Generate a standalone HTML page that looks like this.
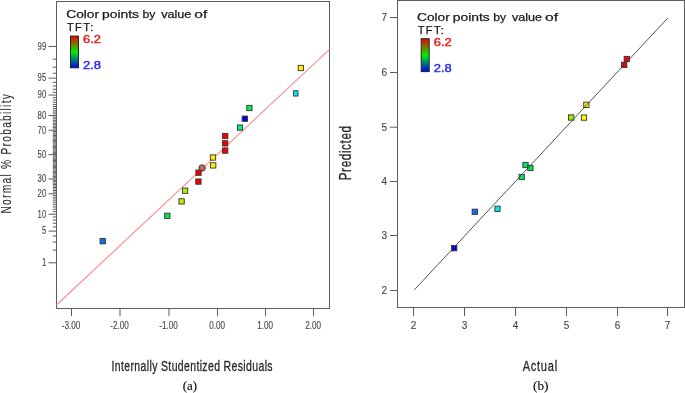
<!DOCTYPE html>
<html><head><meta charset="utf-8"><style>
html,body{margin:0;padding:0;background:#fff;}
svg{display:block;will-change:transform;}
.tl{font-family:"Liberation Sans",sans-serif;font-size:10px;fill:#454545;stroke:#454545;stroke-width:0.12px;}
.lg{font-family:"Liberation Sans",sans-serif;font-size:11px;fill:#1a1a1a;stroke:#1a1a1a;stroke-width:0.25px;}
.lgn{font-family:"Liberation Sans",sans-serif;font-size:10.4px;stroke-width:0.4px;}
.at{font-family:"Liberation Sans",sans-serif;font-size:15px;fill:#2a2a2a;stroke:#2a2a2a;stroke-width:0.1px;}
.at2{font-family:"Liberation Sans",sans-serif;font-size:13.8px;fill:#2a2a2a;stroke:#2a2a2a;stroke-width:0.3px;}
.cap{font-family:"Liberation Serif",serif;font-size:13px;fill:#000;stroke:#000;stroke-width:0.1px;}
</style></head><body>
<svg width="685" height="393" viewBox="0 0 685 393">
<defs><linearGradient id="cb" x1="0" y1="0" x2="0" y2="1">
<stop offset="0" stop-color="#f00000"/><stop offset="0.5" stop-color="#00f000"/><stop offset="1" stop-color="#0000f0"/>
</linearGradient></defs>
<rect width="685" height="393" fill="#fff"/>
<rect x="56.5" y="1.5" width="273" height="307" fill="none" stroke="#5c5c5c" stroke-width="1"/>
<path d="M48.5 262.8H56 M52.8 250.13H56 M52.8 242.09H56 M52.8 236.04H56 M48.5 231.12H56 M52.8 226.93H56 M52.8 223.26H56 M52.8 219.97H56 M52.8 216.98H56 M48.5 214.23H56 M52.8 211.67H56 M52.8 209.28H56 M52.8 207.02H56 M52.8 204.87H56 M52.8 202.83H56 M52.8 200.88H56 M52.8 199.01H56 M52.8 197.21H56 M52.8 195.46H56 M48.5 193.78H56 M52.8 192.14H56 M52.8 190.55H56 M52.8 189H56 M52.8 187.49H56 M52.8 186.01H56 M52.8 184.56H56 M52.8 183.14H56 M52.8 181.75H56 M52.8 180.38H56 M48.5 179.03H56 M52.8 177.7H56 M52.8 176.39H56 M52.8 175.1H56 M52.8 173.83H56 M52.8 172.56H56 M52.8 171.31H56 M52.8 170.08H56 M52.8 168.85H56 M52.8 167.64H56 M52.8 166.43H56 M52.8 165.23H56 M52.8 164.04H56 M52.8 162.85H56 M52.8 161.67H56 M52.8 160.49H56 M52.8 159.32H56 M52.8 158.15H56 M52.8 156.98H56 M52.8 155.82H56 M48.5 154.65H56 M52.8 153.48H56 M52.8 152.32H56 M52.8 151.15H56 M52.8 149.98H56 M52.8 148.81H56 M52.8 147.63H56 M52.8 146.45H56 M52.8 145.26H56 M52.8 144.07H56 M52.8 142.87H56 M52.8 141.66H56 M52.8 140.45H56 M52.8 139.22H56 M52.8 137.99H56 M52.8 136.74H56 M52.8 135.47H56 M52.8 134.2H56 M52.8 132.91H56 M52.8 131.6H56 M48.5 130.27H56 M52.8 128.92H56 M52.8 127.55H56 M52.8 126.16H56 M52.8 124.74H56 M52.8 123.29H56 M52.8 121.81H56 M52.8 120.3H56 M52.8 118.75H56 M52.8 117.16H56 M48.5 115.52H56 M52.8 113.84H56 M52.8 112.09H56 M52.8 110.29H56 M52.8 108.42H56 M52.8 106.47H56 M52.8 104.43H56 M52.8 102.28H56 M52.8 100.02H56 M52.8 97.63H56 M48.5 95.07H56 M52.8 92.32H56 M52.8 89.33H56 M52.8 86.04H56 M52.8 82.37H56 M48.5 78.18H56 M52.8 73.26H56 M52.8 67.21H56 M52.8 59.17H56 M48.5 46.5H56" stroke="#5c5c5c" stroke-width="1" fill="none"/>
<text x="41.9" y="266.1" class="tl" textLength="4.3" lengthAdjust="spacingAndGlyphs">1</text>
<text x="41.9" y="234.42" class="tl" textLength="4.3" lengthAdjust="spacingAndGlyphs">5</text>
<text x="37.6" y="217.53" class="tl" textLength="8.6" lengthAdjust="spacingAndGlyphs">10</text>
<text x="37.6" y="197.08" class="tl" textLength="8.6" lengthAdjust="spacingAndGlyphs">20</text>
<text x="37.6" y="182.33" class="tl" textLength="8.6" lengthAdjust="spacingAndGlyphs">30</text>
<text x="37.6" y="157.95" class="tl" textLength="8.6" lengthAdjust="spacingAndGlyphs">50</text>
<text x="37.6" y="133.57" class="tl" textLength="8.6" lengthAdjust="spacingAndGlyphs">70</text>
<text x="37.6" y="118.82" class="tl" textLength="8.6" lengthAdjust="spacingAndGlyphs">80</text>
<text x="37.6" y="98.37" class="tl" textLength="8.6" lengthAdjust="spacingAndGlyphs">90</text>
<text x="37.6" y="81.48" class="tl" textLength="8.6" lengthAdjust="spacingAndGlyphs">95</text>
<text x="37.6" y="49.8" class="tl" textLength="8.6" lengthAdjust="spacingAndGlyphs">99</text>
<path d="M71.5 308.5V316.2 M120 308.5V316.2 M169 308.5V316.2 M217.5 308.5V316.2 M265.5 308.5V316.2 M313.5 308.5V316.2" stroke="#5c5c5c" stroke-width="1" fill="none"/>
<text x="61.8" y="328.5" class="tl" textLength="18.6" lengthAdjust="spacingAndGlyphs">-3.00</text>
<text x="110.3" y="328.5" class="tl" textLength="18.6" lengthAdjust="spacingAndGlyphs">-2.00</text>
<text x="159.3" y="328.5" class="tl" textLength="18.6" lengthAdjust="spacingAndGlyphs">-1.00</text>
<text x="209.2" y="328.5" class="tl" textLength="15.8" lengthAdjust="spacingAndGlyphs">0.00</text>
<text x="257.2" y="328.5" class="tl" textLength="15.8" lengthAdjust="spacingAndGlyphs">1.00</text>
<text x="305.2" y="328.5" class="tl" textLength="15.8" lengthAdjust="spacingAndGlyphs">2.00</text>
<line x1="56.5" y1="305.0" x2="329.5" y2="49.4" stroke="#ff8a8a" stroke-width="1.1"/>
<circle cx="202.1" cy="168.0" r="3.2" fill="#c86464" stroke="#333" stroke-width="0.9"/>
<rect x="100.05" y="238.55" width="5.3" height="5.3" fill="#0a6ef5" stroke="#353535" stroke-width="0.9"/>
<rect x="164.65" y="213.15" width="5.3" height="5.3" fill="#00e655" stroke="#353535" stroke-width="0.9"/>
<rect x="178.95" y="198.75" width="5.3" height="5.3" fill="#b4ee00" stroke="#353535" stroke-width="0.9"/>
<rect x="182.45" y="188.05" width="5.3" height="5.3" fill="#b4ee00" stroke="#353535" stroke-width="0.9"/>
<rect x="195.75" y="178.95" width="5.3" height="5.3" fill="#f50000" stroke="#353535" stroke-width="0.9"/>
<rect x="195.85" y="170.05" width="5.3" height="5.3" fill="#f50000" stroke="#353535" stroke-width="0.9"/>
<rect x="210.55" y="162.75" width="5.3" height="5.3" fill="#fff000" stroke="#353535" stroke-width="0.9"/>
<rect x="210.35" y="154.85" width="5.3" height="5.3" fill="#fff000" stroke="#353535" stroke-width="0.9"/>
<rect x="222.55" y="147.95" width="5.3" height="5.3" fill="#f50000" stroke="#353535" stroke-width="0.9"/>
<rect x="222.55" y="140.65" width="5.3" height="5.3" fill="#f50000" stroke="#353535" stroke-width="0.9"/>
<rect x="222.55" y="133.35" width="5.3" height="5.3" fill="#f50000" stroke="#353535" stroke-width="0.9"/>
<rect x="237.35" y="124.95" width="5.3" height="5.3" fill="#00f07a" stroke="#353535" stroke-width="0.9"/>
<rect x="242.15" y="116.05" width="5.3" height="5.3" fill="#0000f0" stroke="#353535" stroke-width="0.9"/>
<rect x="246.75" y="105.35" width="5.3" height="5.3" fill="#00f046" stroke="#353535" stroke-width="0.9"/>
<rect x="298.15" y="65.35" width="5.3" height="5.3" fill="#fff000" stroke="#353535" stroke-width="0.9"/>
<rect x="293.6" y="90.75" width="4.4" height="5.3" fill="#00e8f0" stroke="#353535" stroke-width="0.9"/>
<text x="66.3" y="17.6" class="lg" textLength="32.73" lengthAdjust="spacingAndGlyphs">Color</text><text x="102.11" y="17.6" class="lg" textLength="36.9" lengthAdjust="spacingAndGlyphs">points</text><text x="142.51" y="17.6" class="lg" textLength="12.91" lengthAdjust="spacingAndGlyphs">by</text><text x="161.25" y="17.6" class="lg" textLength="30.11" lengthAdjust="spacingAndGlyphs">value</text><text x="194.35" y="17.6" class="lg" textLength="13.02" lengthAdjust="spacingAndGlyphs">of</text><text x="67" y="30.6" class="lg" textLength="26.2" lengthAdjust="spacing">TFT:</text><rect x="70.5" y="36.1" width="8" height="31.7" fill="url(#cb)" stroke="#222" stroke-width="1"/><text x="83" y="43.1" class="lgn" fill="#f01818" stroke="#f01818" textLength="18" lengthAdjust="spacingAndGlyphs">6.2</text><text x="83" y="69" class="lgn" fill="#2828ff" stroke="#2828ff" textLength="18" lengthAdjust="spacingAndGlyphs">2.8</text>
<text transform="translate(11.0,213.5) rotate(-90) scale(0.68,1)" class="at" textLength="175.5" lengthAdjust="spacing">Normal % Probability</text>
<text transform="translate(111.6,370.5) scale(0.76,1)" class="at2" textLength="211.8" lengthAdjust="spacing">Internally Studentized Residuals</text>
<text x="182.8" y="390" class="cap" textLength="14.3" lengthAdjust="spacingAndGlyphs">(a)</text>
<rect x="397.5" y="0.5" width="287" height="307" fill="none" stroke="#5c5c5c" stroke-width="1"/>
<path d="M390 17.5H397 M390 72.5H397 M390 127.2H397 M390 181.5H397 M390 235.5H397 M390 290.5H397" stroke="#5c5c5c" stroke-width="1" fill="none"/>
<text x="387" y="21.1" text-anchor="end" class="tl">7</text>
<text x="387" y="76.1" text-anchor="end" class="tl">6</text>
<text x="387" y="130.8" text-anchor="end" class="tl">5</text>
<text x="387" y="185.1" text-anchor="end" class="tl">4</text>
<text x="387" y="239.1" text-anchor="end" class="tl">3</text>
<text x="387" y="294.1" text-anchor="end" class="tl">2</text>
<path d="M413.5 307.5V316 M464.5 307.5V316 M515.5 307.5V316 M566.5 307.5V316 M617.5 307.5V316 M667.5 307.5V316" stroke="#5c5c5c" stroke-width="1" fill="none"/>
<text x="413.5" y="328.6" text-anchor="middle" class="tl">2</text>
<text x="464.5" y="328.6" text-anchor="middle" class="tl">3</text>
<text x="515.5" y="328.6" text-anchor="middle" class="tl">4</text>
<text x="566.5" y="328.6" text-anchor="middle" class="tl">5</text>
<text x="617.5" y="328.6" text-anchor="middle" class="tl">6</text>
<text x="667.5" y="328.6" text-anchor="middle" class="tl">7</text>
<rect x="472.15" y="209.15" width="5.3" height="5.3" fill="#0a6ef5" stroke="#353535" stroke-width="0.9"/>
<rect x="494.85" y="206.15" width="5.3" height="5.3" fill="#00e8f0" stroke="#353535" stroke-width="0.9"/>
<rect x="451.55" y="245.55" width="5.3" height="5.3" fill="#0000dc" stroke="#353535" stroke-width="0.9"/>
<rect x="522.85" y="162.35" width="5.3" height="5.3" fill="#00e664" stroke="#353535" stroke-width="0.9"/>
<rect x="519.05" y="174.35" width="5.3" height="5.3" fill="#00ea64" stroke="#353535" stroke-width="0.9"/>
<rect x="527.75" y="165.35" width="5.3" height="5.3" fill="#00e63c" stroke="#353535" stroke-width="0.9"/>
<rect x="568.55" y="114.85" width="5.3" height="5.3" fill="#96f000" stroke="#353535" stroke-width="0.9"/>
<rect x="581.35" y="114.95" width="5.3" height="5.3" fill="#fff500" stroke="#353535" stroke-width="0.9"/>
<rect x="583.75" y="102.15" width="5.3" height="5.3" fill="#fff000" stroke="#353535" stroke-width="0.9"/>
<rect x="624.15" y="56.35" width="5.3" height="5.3" fill="#f50000" stroke="#353535" stroke-width="0.9"/>
<rect x="621.55" y="62.25" width="5.3" height="5.3" fill="#f50000" stroke="#353535" stroke-width="0.9"/>
<line x1="414.2" y1="290.0" x2="667.7" y2="18.1" stroke="#404040" stroke-width="0.9"/>
<text x="417" y="20.8" class="lg" textLength="32.73" lengthAdjust="spacingAndGlyphs">Color</text><text x="452.81" y="20.8" class="lg" textLength="36.9" lengthAdjust="spacingAndGlyphs">points</text><text x="493.21" y="20.8" class="lg" textLength="12.91" lengthAdjust="spacingAndGlyphs">by</text><text x="511.95" y="20.8" class="lg" textLength="30.11" lengthAdjust="spacingAndGlyphs">value</text><text x="545.05" y="20.8" class="lg" textLength="13.02" lengthAdjust="spacingAndGlyphs">of</text><text x="417.7" y="33.8" class="lg" textLength="26.2" lengthAdjust="spacing">TFT:</text><rect x="421.2" y="38.7" width="8" height="32.9" fill="url(#cb)" stroke="#222" stroke-width="1"/><text x="433.7" y="46.3" class="lgn" fill="#f01818" stroke="#f01818" textLength="18" lengthAdjust="spacingAndGlyphs">6.2</text><text x="433.7" y="72.2" class="lgn" fill="#2828ff" stroke="#2828ff" textLength="18" lengthAdjust="spacingAndGlyphs">2.8</text>
<text transform="translate(350.7,180.3) rotate(-90) scale(0.72,1)" class="at" style="font-size:16.3px;stroke-width:0.3px" textLength="75.5" lengthAdjust="spacing">Predicted</text>
<text transform="translate(522.7,370.6) scale(0.8,1)" class="at2" textLength="43" lengthAdjust="spacing">Actual</text>
<text x="533" y="390" class="cap" textLength="15.4" lengthAdjust="spacingAndGlyphs">(b)</text>
</svg>
</body></html>
